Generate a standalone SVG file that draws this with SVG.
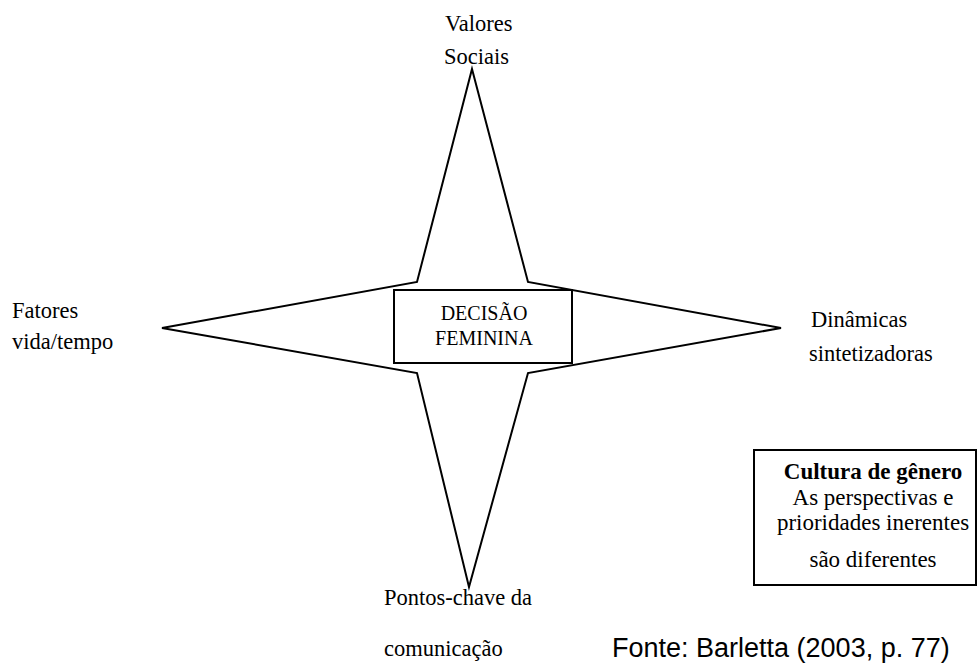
<svg xmlns="http://www.w3.org/2000/svg" width="979" height="664" viewBox="0 0 979 664">
<style>
.t{font-family:"Liberation Serif","Times New Roman","DejaVu Serif",serif;font-size:22.5px;fill:#000}
.c{font-family:"Liberation Serif","Times New Roman","DejaVu Serif",serif;font-size:20px;fill:#000;text-anchor:middle}
.b{font-family:"Liberation Serif","Times New Roman","DejaVu Serif",serif;font-size:23px;fill:#000;text-anchor:middle}
.s{fill:#fff;stroke:#000;stroke-width:2}
</style>
<rect width="979" height="664" fill="#fff"/>
<g id="connectors">
<polygon class="s" points="472,69 528,282 781,328 528,373 469,587 417,373 162,328 417,282" stroke-linejoin="miter"/>
</g>
<g id="center">
<rect class="s" x="394" y="290" width="178" height="73"/>
<text class="c" x="484" y="320">DECISÃO</text>
<text class="c" x="484" y="345">FEMININA</text>
</g>
<g id="top">
<text class="t" x="445" y="31">Valores</text>
<text class="t" x="444" y="64">Sociais</text>
</g>
<g id="left">
<text class="t" x="12" y="318">Fatores</text>
<text class="t" x="12" y="349">vida/tempo</text>
</g>
<g id="right">
<text class="t" x="811" y="327">Dinâmicas</text>
<text class="t" x="809" y="361">sintetizadoras</text>
</g>
<g id="bottom">
<text class="t" x="384" y="605">Pontos-chave da</text>
<text class="t" x="384" y="656">comunicação</text>
</g>
<g id="culture">
<rect x="754" y="450" width="222" height="135" fill="#fff" stroke="#000" stroke-width="2"/>
<text class="b" x="873" y="479" font-weight="bold">Cultura de gênero</text>
<text class="b" x="873" y="505">As perspectivas e</text>
<text class="b" x="873" y="530">prioridades inerentes</text>
<text class="b" x="873" y="567">são diferentes</text>
</g>
<g id="source">
<text x="612" y="657" style="font-family:'Liberation Sans',Arial,sans-serif;font-size:27px;fill:#000">Fonte: Barletta (2003, p. 77)</text>
</g>
</svg>
